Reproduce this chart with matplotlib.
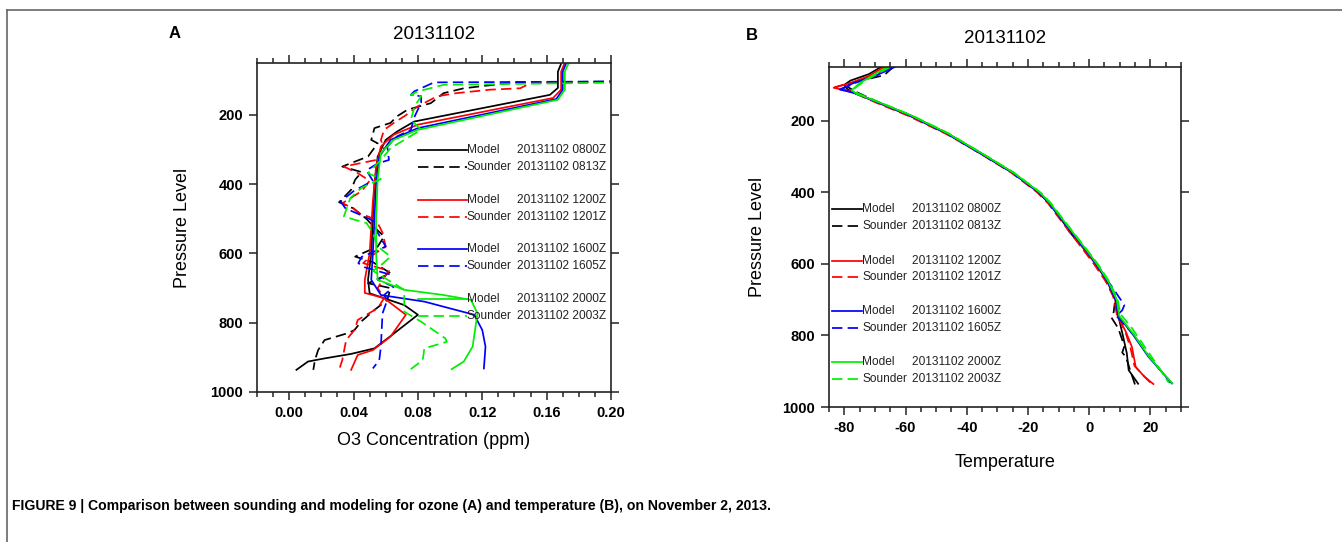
import matplotlib
matplotlib.use("Agg")
import matplotlib.pyplot as plt
from matplotlib.ticker import MultipleLocator, FixedLocator, FuncFormatter
from matplotlib.lines import Line2D

plt.rcParams['font.family'] = ['Liberation Sans', 'DejaVu Sans']
plt.rcParams['axes.unicode_minus'] = False

# ---------------- DATA ----------------
date_title = "20131102"
series_names = ["Model", "Sounder", "Model", "Sounder", "Model", "Sounder", "Model", "Sounder"]
series_times = ["20131102 0800Z", "20131102 0813Z", "20131102 1200Z", "20131102 1201Z",
                "20131102 1600Z", "20131102 1605Z", "20131102 2000Z", "20131102 2003Z"]
series_colors = ["black", "black", "red", "red", "blue", "blue", "#00ee00", "#00ee00"]
series_dashed = [False, True, False, True, False, True, False, True]

# Panel A: ozone (ppm) vs pressure (hPa)
o3_model_0800_p = [52, 75, 98, 122, 142, 219, 248, 272, 320, 400, 500, 600, 676, 715, 749, 777, 835, 874, 890, 903, 912, 936]
o3_model_0800_v = [0.169, 0.167, 0.167, 0.167, 0.162, 0.0777, 0.067, 0.060, 0.055, 0.053, 0.052, 0.051, 0.049, 0.050, 0.0715, 0.080, 0.064, 0.053, 0.0385, 0.022, 0.0117, 0.0045]

o3_snd_0813_p = [103, 106, 123, 137, 166, 185, 204, 223, 238, 272, 282, 320, 349, 365, 387, 416, 452, 470, 500, 520, 551, 580, 609, 625, 657, 686, 700, 734, 763, 797, 821, 830, 850, 879, 908, 936]
o3_snd_0813_v = [0.215, 0.140, 0.1085, 0.096, 0.088, 0.0735, 0.067, 0.063, 0.053, 0.051, 0.055, 0.049, 0.033, 0.045, 0.041, 0.0385, 0.031, 0.040, 0.048, 0.052, 0.059, 0.055, 0.041, 0.052, 0.063, 0.049, 0.063, 0.061, 0.053, 0.0447, 0.0406, 0.0365, 0.022, 0.018, 0.016, 0.015]

o3_model_1200_p = [52, 75, 100, 127, 151, 228, 257, 291, 350, 450, 600, 676, 714, 729, 777, 840, 879, 893, 936]
o3_model_1200_v = [0.171, 0.169, 0.169, 0.169, 0.164, 0.080, 0.065, 0.057, 0.054, 0.052, 0.050, 0.047, 0.047, 0.059, 0.0725, 0.063, 0.052, 0.0426, 0.0385]

o3_snd_1201_p = [103, 108, 123, 127, 137, 146, 175, 204, 223, 243, 272, 301, 330, 349, 368, 390, 420, 455, 470, 483, 495, 512, 540, 580, 610, 628, 650, 676, 700, 729, 758, 792, 821, 850, 908, 936]
o3_snd_1201_v = [0.215, 0.150, 0.1436, 0.125, 0.104, 0.092, 0.080, 0.0715, 0.065, 0.059, 0.057, 0.059, 0.054, 0.034, 0.0426, 0.050, 0.045, 0.033, 0.040, 0.043, 0.050, 0.055, 0.058, 0.060, 0.050, 0.046, 0.062, 0.058, 0.055, 0.059, 0.055, 0.0426, 0.0406, 0.0354, 0.033, 0.031]

o3_model_1600_p = [52, 75, 100, 127, 154, 238, 272, 320, 400, 500, 600, 676, 720, 739, 777, 821, 869, 932]
o3_model_1600_v = [0.172, 0.170, 0.170, 0.170, 0.166, 0.080, 0.063, 0.056, 0.054, 0.053, 0.052, 0.051, 0.057, 0.084, 0.115, 0.120, 0.122, 0.121]

o3_snd_1605_p = [103, 106, 132, 142, 146, 165, 204, 243, 262, 291, 330, 340, 360, 390, 420, 450, 470, 490, 505, 540, 580, 610, 628, 640, 660, 676, 696, 720, 734, 773, 869, 908, 932]
o3_snd_1605_v = [0.215, 0.090, 0.0777, 0.0756, 0.082, 0.082, 0.078, 0.0756, 0.067, 0.061, 0.062, 0.055, 0.048, 0.052, 0.040, 0.032, 0.035, 0.045, 0.052, 0.055, 0.060, 0.045, 0.043, 0.047, 0.062, 0.055, 0.065, 0.059, 0.061, 0.058, 0.057, 0.056, 0.052]

o3_model_2000_p = [52, 75, 100, 127, 156, 243, 272, 310, 387, 500, 600, 676, 705, 720, 734, 773, 869, 912, 934]
o3_model_2000_v = [0.1735, 0.1713, 0.1713, 0.1713, 0.167, 0.080, 0.065, 0.057, 0.055, 0.054, 0.054, 0.055, 0.0715, 0.096, 0.113, 0.117, 0.114, 0.1085, 0.101]

o3_snd_2003_p = [106, 113, 132, 142, 146, 175, 214, 243, 272, 296, 330, 368, 385, 410, 440, 493, 503, 512, 540, 580, 609, 630, 650, 705, 768, 797, 845, 855, 874, 908, 934]
o3_snd_2003_v = [0.215, 0.096, 0.080, 0.0756, 0.082, 0.078, 0.0756, 0.082, 0.0715, 0.063, 0.057, 0.049, 0.057, 0.045, 0.038, 0.034, 0.041, 0.048, 0.052, 0.055, 0.063, 0.058, 0.052, 0.0715, 0.0715, 0.082, 0.097, 0.098, 0.084, 0.083, 0.0756]

# Panel B: temperature (C) vs pressure (hPa)
t_model_0800_p = [50, 70, 88, 100, 112, 125, 150, 185, 235, 290, 345, 400, 430, 470, 510, 560, 600, 650, 695, 720, 745, 800, 850, 897, 935]
t_model_0800_v = [-68, -72, -78, -80, -79, -76, -68.5, -58.5, -46.5, -35.5, -25, -16.5, -13, -9.5, -6.5, -1.5, 2.5, 6, 8.6, 9, 9.5, 11, 12.3, 12.9, 16]

t_snd_0813_p = [50, 73, 95, 105, 118, 150, 185, 235, 290, 345, 400, 430, 470, 560, 600, 640, 700, 735, 749, 780, 830, 848, 860, 900, 938]
t_snd_0813_v = [-64, -67, -78, -79, -76.5, -68.5, -58.5, -46.5, -35.7, -25, -16.8, -13.3, -9.8, -1.6, 2, 5, 8.5, 8.0, 7.2, 9.5, 11.5, 10.8, 12.0, 13.5, 15]

t_model_1200_p = [50, 75, 95, 108, 120, 150, 185, 240, 290, 345, 400, 430, 470, 560, 600, 650, 700, 740, 790, 833, 888, 915, 936]
t_model_1200_v = [-67, -72, -78, -83.5, -77, -69, -59, -45.5, -35.5, -25, -16.5, -13, -9.5, -1.5, 2, 6, 8.5, 9, 12, 14, 15.2, 18, 21]

t_snd_1201_p = [50, 72, 92, 106, 118, 150, 185, 240, 290, 345, 400, 430, 470, 560, 600, 650, 690, 720, 745, 790, 835, 885, 910, 932]
t_snd_1201_v = [-66, -70, -77, -83, -78, -69.5, -59.5, -46, -36, -25.5, -17, -13.5, -10, -2, 1.5, 5.5, 7.8, 8.6, 9.2, 11.8, 13.5, 14.8, 17.5, 20]

t_model_1600_p = [50, 75, 95, 113, 122, 150, 185, 235, 290, 345, 400, 430, 470, 560, 600, 650, 700, 745, 800, 860, 900, 934]
t_model_1600_v = [-63.5, -70, -77, -81.5, -77, -68.5, -58.5, -46.5, -35.7, -25, -16.5, -13, -9.5, -1.3, 2.2, 6, 8.6, 9.5, 14.5, 19.4, 23.5, 27]

t_snd_1605_p = [50, 72, 93, 112, 122, 150, 185, 235, 290, 345, 400, 430, 470, 560, 600, 650, 690, 715, 730, 745, 800, 860, 900, 932]
t_snd_1605_v = [-64, -69, -76, -81, -77, -68.8, -58.8, -46.8, -35.9, -25.2, -16.6, -13.2, -9.6, -1.2, 2.4, 6.3, 9.5, 11.5, 10.8, 8.8, 14.8, 19.6, 23.6, 26.5]

t_model_2000_p = [50, 75, 95, 115, 125, 150, 185, 235, 290, 345, 400, 430, 470, 560, 600, 650, 700, 745, 800, 860, 900, 934]
t_model_2000_v = [-66, -71, -75, -77.6, -76, -68.3, -58.3, -46.3, -35.4, -24.8, -16.2, -12.8, -9.2, -1.0, 2.5, 6.3, 9, 9.8, 14.8, 19.6, 23.6, 27.2]

t_snd_2003_p = [50, 73, 93, 112, 124, 150, 185, 235, 290, 345, 400, 430, 470, 560, 600, 650, 700, 740, 780, 830, 880, 932]
t_snd_2003_v = [-65, -70, -74, -77, -75.5, -68, -58, -46, -35.2, -24.6, -16, -12.5, -9, -0.8, 2.8, 6.6, 9.3, 10.2, 14, 18, 22, 26]

o3_p = [o3_model_0800_p, o3_snd_0813_p, o3_model_1200_p, o3_snd_1201_p,
        o3_model_1600_p, o3_snd_1605_p, o3_model_2000_p, o3_snd_2003_p]
o3_v = [o3_model_0800_v, o3_snd_0813_v, o3_model_1200_v, o3_snd_1201_v,
        o3_model_1600_v, o3_snd_1605_v, o3_model_2000_v, o3_snd_2003_v]
t_p = [t_model_0800_p, t_snd_0813_p, t_model_1200_p, t_snd_1201_p,
       t_model_1600_p, t_snd_1605_p, t_model_2000_p, t_snd_2003_p]
t_v = [t_model_0800_v, t_snd_0813_v, t_model_1200_v, t_snd_1201_v,
       t_model_1600_v, t_snd_1605_v, t_model_2000_v, t_snd_2003_v]

o3_xticks = [0.00, 0.04, 0.08, 0.12, 0.16, 0.20]
t_xticks = [-80, -60, -40, -20, 0, 20]
p_ticks = [200, 400, 600, 800, 1000]

caption = ("FIGURE 9 | Comparison between sounding and modeling for ozone (A) and "
           "temperature (B), on November 2, 2013.")

# ---------------- STYLE / LAYOUT ----------------
W, H = 1342, 542
fig = plt.figure(figsize=(W / 100, H / 100), dpi=100)

def fx(px):
    return px / W

def fy(py):
    return 1 - py / H

axA = fig.add_axes([fx(257), fy(392), fx(611) - fx(257), fy(63) - fy(392)])
axB = fig.add_axes([fx(829), fy(407), fx(1181) - fx(829), fy(67) - fy(407)])

DASH = (0, (6, 3))
LW = 1.25

def style_axis(ax, xlim, xticks, xminor, fmt):
    ax.set_ylim(1000, 50)
    ax.set_xlim(*xlim)
    ax.xaxis.set_major_locator(FixedLocator(xticks))
    ax.xaxis.set_minor_locator(MultipleLocator(xminor))
    ax.xaxis.set_major_formatter(FuncFormatter(fmt))
    ax.yaxis.set_major_locator(FixedLocator(p_ticks))
    ax.yaxis.set_minor_locator(FixedLocator([]))
    ax.tick_params(which='both', direction='out', top=True, right=True,
                   width=1.1, color='#222222')
    ax.tick_params(which='major', length=6, labelsize=10.5, pad=4)
    ax.tick_params(which='minor', length=3.5)
    for lab in ax.get_xticklabels() + ax.get_yticklabels():
        lab.set_fontweight('bold')
    for s in ax.spines.values():
        s.set_linewidth(1.2)
        s.set_color('#222222')

def draw_series(ax, plist, vlist):
    for p, v, c, d in zip(plist, vlist, series_colors, series_dashed):
        ax.plot(v, p, color=c, lw=LW, linestyle=DASH if d else '-', clip_on=True)

def draw_legend(ax, x0, x1, xdate, rows_px, top_px, h_px, fs):
    for i in range(8):
        yf = 1 - (rows_px[i] - top_px) / h_px
        ax.plot([x0, x1], [yf, yf], transform=ax.transAxes, color=series_colors[i],
                lw=LW, linestyle=DASH if series_dashed[i] else '-', clip_on=False)
        ax.text(x1, yf, series_names[i], transform=ax.transAxes, fontsize=fs,
                va='center', ha='left', color='#222222')
        ax.text(xdate, yf, series_times[i], transform=ax.transAxes, fontsize=fs,
                va='center', ha='left', color='#222222')

# Panel A
draw_series(axA, o3_p, o3_v)
style_axis(axA, (-0.02, 0.20), o3_xticks, 0.01, lambda x, pos: f"{x:.2f}")
axA.set_xlabel("O3 Concentration (ppm)", fontsize=13, labelpad=9)
axA.set_ylabel("Pressure Level", fontsize=13, labelpad=14)
axA.set_title(date_title, fontsize=13.5, pad=17)
draw_legend(axA, 0.455, 0.593, 0.735, [150, 167, 200, 217, 249, 266, 299, 316], 63, 329, 8.6)

# Panel B
draw_series(axB, t_p, t_v)
style_axis(axB, (-85, 30), t_xticks, 5, lambda x, pos: f"{int(round(x))}")
axB.set_xlabel("Temperature", fontsize=13, labelpad=14)
axB.set_ylabel("Pressure Level", fontsize=13, labelpad=12)
axB.set_title(date_title, fontsize=13.5, pad=17)
draw_legend(axB, 0.0085, 0.094, 0.236, [209, 226, 261, 277, 311, 328, 362, 379], 67, 340, 8.6)

# Panel letters
fig.text(fx(175), fy(33), "A", fontsize=12, fontweight='bold', ha='center', va='center')
fig.text(fx(752), fy(35), "B", fontsize=12, fontweight='bold', ha='center', va='center')

# Caption
fig.text(fx(12), fy(506), caption, fontsize=10.1, fontweight='bold', ha='left', va='center')

# Outer frame (top and left)
fig.add_artist(Line2D([fx(7), 1.0], [fy(10), fy(10)], color='#666666', lw=1.2))
fig.add_artist(Line2D([fx(7), fx(7)], [fy(10), 0.0], color='#666666', lw=1.2))

fig.savefig("out.png", dpi=100)
